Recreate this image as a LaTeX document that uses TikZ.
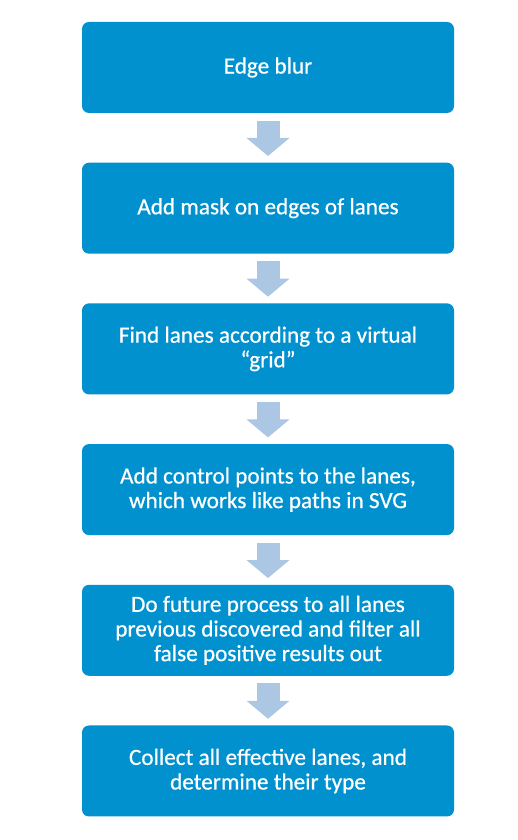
\documentclass[tikz,border=0pt]{standalone}
\usepackage{fontspec}
\setmainfont{Carlito}
\newfontfamily\boxfont{Carlito}[FakeBold=0.6]
\usetikzlibrary{arrows.meta}
\definecolor{boxblue}{HTML}{0091CE}
\definecolor{arrowblue}{HTML}{ABC7E3}
\tikzset{
  stepbox/.style={fill=boxblue, draw=none, rounded corners=7pt, minimum width=372pt, minimum height=91pt,
    text=white, align=center, font=\boxfont\fontsize{23.2pt}{24.6pt}\selectfont, inner sep=0pt},
  blockarrow/.style={draw=arrowblue, line width=23pt, line cap=butt,
    -{Triangle[width=42pt,length=18pt,fill=arrowblue]}, shorten <=7.5pt, shorten >=6.5pt}
}
\begin{document}
\begin{tikzpicture}[x=1pt,y=1pt]
\useasboundingbox (0,0) rectangle (517,840);
\node[stepbox] (b1) at (268,{840-67.5}) {Edge blur};
\node[stepbox] (b2) at (268,{840-208.2}) {Add mask on edges of lanes};
\node[stepbox] (b3) at (268,{840-348.9}) {Find lanes according to a virtual\\“grid”};
\node[stepbox] (b4) at (268,{840-489.6}) {Add control points to the lanes,\\which works like paths in SVG};
\node[stepbox] (b5) at (268,{840-630.3}) {Do future process to all lanes\\previous discovered and filter all\\false positive results out};
\node[stepbox] (b6) at (268,{840-771}) {Collect all effective lanes, and\\determine their type};
\draw[blockarrow] (b1.south) -- (b2.north);
\draw[blockarrow] (b2.south) -- (b3.north);
\draw[blockarrow] (b3.south) -- (b4.north);
\draw[blockarrow] (b4.south) -- (b5.north);
\draw[blockarrow] (b5.south) -- (b6.north);
\end{tikzpicture}
\end{document}
